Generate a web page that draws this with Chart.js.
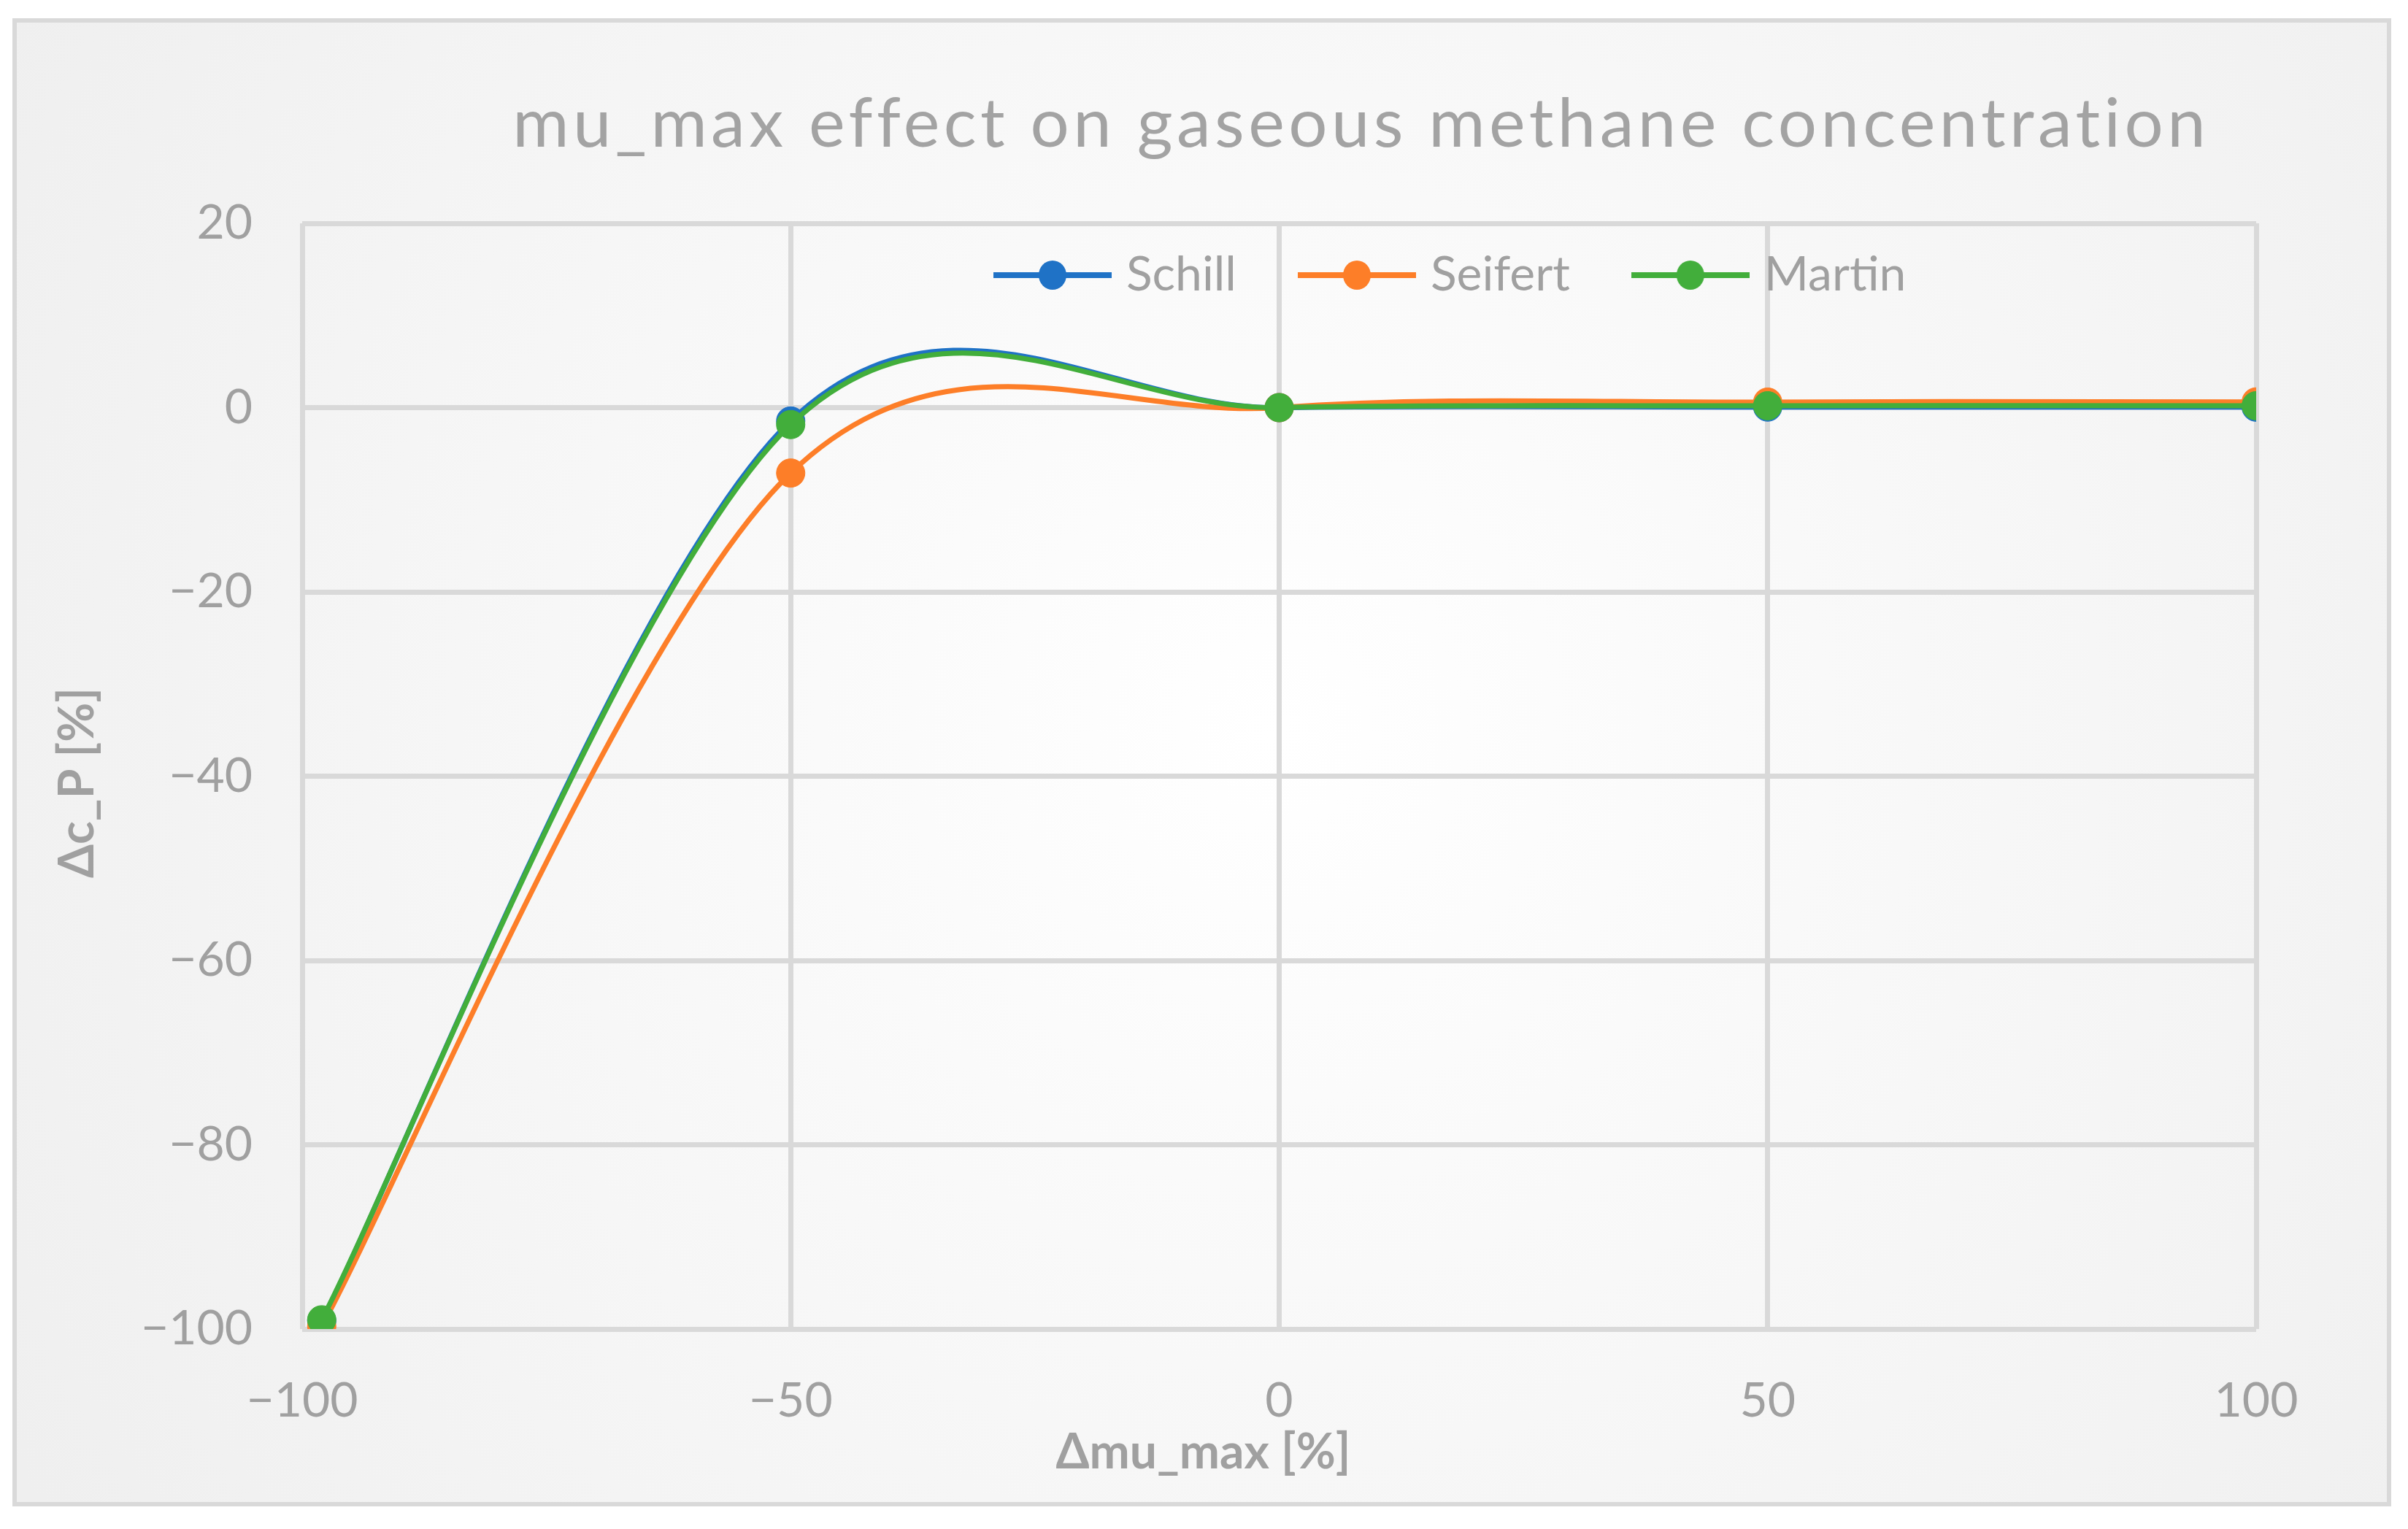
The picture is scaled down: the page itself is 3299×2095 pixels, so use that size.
<!DOCTYPE html>
<html><head><meta charset="utf-8">
<script src="https://cdn.jsdelivr.net/npm/chart.js@4.4.1/dist/chart.umd.min.js"></script>
<style>html,body{margin:0;padding:0;background:#fff;} canvas{display:block;}</style>
</head><body>
<canvas id="c" width="3299" height="2095"></canvas>
<script>
// ---- data ----
const xValues = [-98, -50, 0, 50, 100];
const schillValues = [-99.1, -1.45, 0, 0.06, 0.05];
const seifertValues = [-99.7, -7.1, 0, 0.6, 0.62];
const martinValues = [-99.0, -1.84, 0, 0.2, 0.2];
const seriesNames = ['Schill', 'Seifert', 'Martin'];
const seriesColors = ['#1f72c6', '#fd7e28', '#42ae3b'];
const xTickValues = [-100, -50, 0, 50, 100];
const yTickValues = [-100, -80, -60, -40, -20, 0, 20];
const titleText = 'mu_max effect on gaseous methane concentration';
const xTitleText = 'Δmu_max [%]';
const yTitleText = 'Δc_P [%]';

const TEXT = '#a0a0a0';
const GRID = '#d9d9d9';
const FONT = 'Lato';

function fmt(v) { return v < 0 ? '\u2212' + Math.abs(v) : String(v); }
function pts(vals) { return xValues.map((x, i) => ({x: x, y: vals[i]})); }

function legendImage(color) {
  const c = document.createElement('canvas'); c.width = 162; c.height = 42;
  const g = c.getContext('2d');
  g.strokeStyle = color; g.lineWidth = 8;
  g.beginPath(); g.moveTo(0, 21); g.lineTo(162, 21); g.stroke();
  g.fillStyle = color; g.beginPath(); g.ellipse(81, 21, 19, 20, 0, 0, Math.PI * 2); g.fill();
  return c;
}
const legendImgs = seriesColors.map(legendImage);

function ds(i, vals, order) {
  return {
    label: seriesNames[i], data: pts(vals), order: order,
    borderColor: seriesColors[i], backgroundColor: seriesColors[i],
    borderWidth: 7, tension: 0.5,
    pointRadius: 19.5, pointBorderWidth: 1, pointBorderColor: seriesColors[i], pointBackgroundColor: seriesColors[i]
  };
}

function wrapShift(obj, dx, dy) {
  if (obj.__shifted) return;
  const orig = obj.drawTitle.bind(obj);
  obj.drawTitle = function () { const ctx = this.ctx; ctx.save(); ctx.translate(dx, dy); orig(); ctx.restore(); };
  obj.__shifted = true;
}

const tweaks = {
  id: 'tweaks',
  beforeDraw(chart) {
    const ctx = chart.ctx;
    ctx.save();
    ctx.fillStyle = '#ffffff'; ctx.fillRect(0, 0, 3299, 2095);
    const g = ctx.createRadialGradient(1750, 1000, 0, 1750, 1000, 2000);
    g.addColorStop(0, '#ffffff'); g.addColorStop(1, '#efefef');
    ctx.fillStyle = g; ctx.fillRect(20, 28, 3253, 2033);
    ctx.strokeStyle = '#d9d9d9'; ctx.lineWidth = 6; ctx.strokeRect(20, 28, 3253, 2033);
    ctx.restore();
  },
  // Excel-style smoothing (uniform Catmull-Rom) on the points laid out by the scales
  beforeDatasetsDraw(chart) {
    chart.getSortedVisibleDatasetMetas().forEach(meta => {
      const p = meta.data; const n = p.length;
      for (let i = 0; i < n; i++) {
        const prev = p[Math.max(0, i - 1)], next = p[Math.min(n - 1, i + 1)];
        const dx = (next.x - prev.x) / 6, dy = (next.y - prev.y) / 6;
        p[i].cp1x = p[i].x - dx; p[i].cp1y = p[i].y - dy;
        p[i].cp2x = p[i].x + dx; p[i].cp2y = p[i].y + dy;
      }
      if (meta.dataset) meta.dataset._path = undefined;
    });
  },
  afterUpdate(chart) {
    const t = chart.titleBlock;
    if (t) {
      t.left = 1862 - 1550; t.right = 1862 + 1550; t.top = 114.3; t.bottom = t.top + 112.8;
      if (!t.__wrapped) {
        const orig = t.draw.bind(t);
        t.draw = function (a) {
          const ctx = this.ctx; ctx.save();
          ctx.font = '94px ' + FONT;
          const w = ctx.measureText(titleText).width;
          const sp = Math.max(0, (2323 - w) / titleText.length);
          ctx.letterSpacing = sp.toFixed(2) + 'px';
          ctx.translate(sp / 2, 0);
          orig(a); ctx.restore();
        };
        t.__wrapped = true;
      }
    }
    const lg = chart.legend;
    if (lg) { lg.left = 1374 - 97; lg.right = 3299; lg.top = 344 - 97; lg.bottom = 600; }
    wrapShift(chart.scales.x, -104, 0);
    wrapShift(chart.scales.y, 0, 9);
  }
};

new Chart(document.getElementById('c'), {
  type: 'line',
  data: { datasets: [ds(0, schillValues, 3), ds(1, seifertValues, 2), ds(2, martinValues, 1)] },
  options: {
    responsive: false, animation: false, devicePixelRatio: 1,
    layout: { padding: { left: 20, right: 208, top: 192.2, bottom: 20 } },
    plugins: {
      tooltip: { enabled: false },
      title: { display: true, text: titleText, color: '#a3a3a3', font: { family: FONT, size: 94, weight: 'normal', lineHeight: 1.2 }, padding: 0 },
      legend: {
        display: true, position: 'top', align: 'start', maxHeight: 1,
        labels: {
          usePointStyle: true, pointStyleWidth: 136, padding: 97, color: TEXT,
          font: { family: FONT, size: 66 },
          sort: (a, b) => a.datasetIndex - b.datasetIndex,
          generateLabels: (chart) => {
            const items = Chart.defaults.plugins.legend.labels.generateLabels(chart);
            items.forEach(it => { it.pointStyle = legendImgs[it.datasetIndex]; it.fontColor = TEXT; });
            return items;
          }
        }
      }
    },
    scales: {
      x: {
        type: 'linear', min: -100, max: 100,
        afterBuildTicks: s => { s.ticks = xTickValues.map(v => ({value: v})); },
        afterFit: s => { s.height = 254; },
        grid: { color: GRID, lineWidth: 7, drawTicks: false },
        border: { display: false },
        ticks: { color: TEXT, font: { family: FONT, size: 66 }, padding: 59, callback: fmt, maxRotation: 0 },
        title: { display: true, text: xTitleText, color: TEXT, font: { family: FONT, size: 66, weight: 'bold', lineHeight: 1.2 }, padding: { top: 0, bottom: 44.4 } }
      },
      y: {
        type: 'linear', min: -100, max: 20,
        afterBuildTicks: s => { s.ticks = yTickValues.map(v => ({value: v})); },
        afterFit: s => { s.width = 394; },
        grid: { color: GRID, lineWidth: 7, drawTicks: false },
        border: { display: false },
        ticks: { color: TEXT, font: { family: FONT, size: 66 }, padding: 68, callback: fmt },
        title: { display: true, text: yTitleText, color: TEXT, font: { family: FONT, size: 66, weight: 'bold', lineHeight: 1.2 }, padding: { top: 47, bottom: 0 } }
      }
    }
  },
  plugins: [tweaks]
});
</script>
</body></html>
